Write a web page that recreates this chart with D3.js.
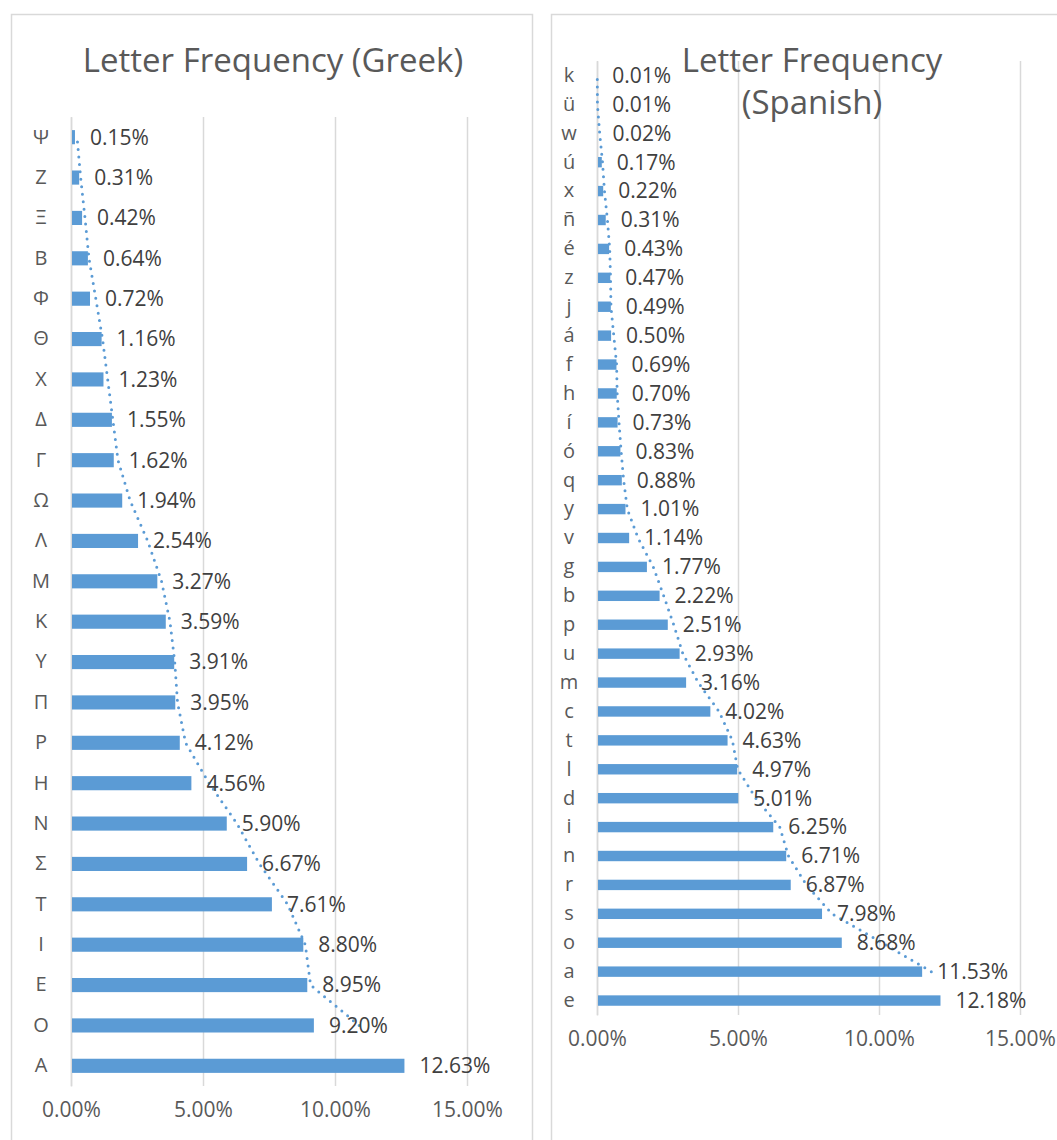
<!DOCTYPE html>
<html>
<head>
<meta charset="utf-8">
<script src="https://cdn.jsdelivr.net/npm/d3@7"></script>
<style>
  body { margin: 0; background: #fff; }
  svg { display: block; font-family: "Open Sans", "Noto Sans", sans-serif; }
</style>
</head>
<body>
<script>
// data, listed from the bottom bar upwards (Excel order)
var greekLetters = ["\u0391","\u039F","\u0395","\u0399","\u03A4","\u03A3","\u039D","\u0397","\u03A1","\u03A0","\u03A5","\u039A","\u039C","\u039B","\u03A9","\u0393","\u0394","\u03A7","\u0398","\u03A6","\u0392","\u039E","\u0396","\u03A8"];
var greekValues = [12.63, 9.20, 8.95, 8.80, 7.61, 6.67, 5.90, 4.56, 4.12, 3.95, 3.91, 3.59, 3.27, 2.54, 1.94, 1.62, 1.55, 1.23, 1.16, 0.72, 0.64, 0.42, 0.31, 0.15];

var spanishLetters = ["e","a","o","s","r","n","i","d","l","t","c","m","u","p","b","g","v","y","q","ó","í","h","f","á","j","z","é","ñ","x","ú","w","ü","k"];
var spanishValues = [12.18, 11.53, 8.68, 7.98, 6.87, 6.71, 6.25, 5.01, 4.97, 4.63, 4.02, 3.16, 2.93, 2.51, 2.22, 1.77, 1.14, 1.01, 0.88, 0.83, 0.73, 0.70, 0.69, 0.50, 0.49, 0.47, 0.43, 0.31, 0.22, 0.17, 0.02, 0.01, 0.01];

var xTicks = [0, 5, 10, 15];
var xMax = 15;

var barColor = "#5B9BD5";
var gridColor = "#D9D9D9";

var svg = d3.select("body").append("svg")
    .attr("width", 1057)
    .attr("height", 1140);

function pct(v) { return v.toFixed(2) + "%"; }

function drawPanel(opts) {
    // chart border
    svg.append("rect")
        .attr("x", opts.box[0] + 0.5)
        .attr("y", opts.box[1] + 0.5)
        .attr("width", opts.box[2])
        .attr("height", opts.box[3])
        .attr("fill", "#fff")
        .attr("stroke", gridColor)
        .attr("stroke-width", 1.5);

    var x = d3.scaleLinear()
        .domain([0, xMax])
        .range([opts.left, opts.right]);

    var y = d3.scaleBand()
        .domain(opts.letters)
        .range([opts.bottom, opts.top])
        .paddingInner(opts.gap)
        .paddingOuter(opts.gap / 2);

    var g = svg.append("g");

    // vertical gridlines + value axis labels
    var xAxis = g.append("g")
        .attr("transform", "translate(0," + opts.bottom + ")")
        .call(d3.axisBottom(x)
            .tickValues(xTicks)
            .tickSize(-(opts.bottom - opts.top))
            .tickPadding(opts.tickPad)
            .tickFormat(pct));
    xAxis.select(".domain").remove();
    xAxis.selectAll("line")
        .attr("stroke", gridColor)
        .attr("stroke-width", 1.5);
    xAxis.selectAll("text")
        .attr("fill", "#595959")
        .attr("font-size", 21)
        .attr("font-family", "Open Sans");

    // category axis
    var yAxis = g.append("g")
        .attr("transform", "translate(" + opts.left + ",0)")
        .call(d3.axisLeft(y).tickSize(0).tickPadding(0));
    yAxis.select(".domain")
        .attr("stroke", gridColor)
        .attr("stroke-width", 1.5);
    yAxis.selectAll("text")
        .attr("x", -opts.catOffset)
        .attr("text-anchor", "middle")
        .attr("fill", "#595959")
        .attr("font-size", 20)
        .attr("font-family", "Open Sans");

    // bars
    g.selectAll(".bar")
        .data(opts.values)
        .enter().append("rect")
            .attr("class", "bar")
            .attr("x", x(0) + 1)
            .attr("y", function(d, i) { return y(opts.letters[i]); })
            .attr("width", function(d) { return x(d) - x(0) - 1; })
            .attr("height", y.bandwidth())
            .attr("fill", barColor);

    // moving average trendline (period 2)
    var trend = [];
    for (var i = 1; i < opts.values.length; i++) {
        trend.push([
            x((opts.values[i - 1] + opts.values[i]) / 2),
            y(opts.letters[i]) + y.bandwidth() / 2
        ]);
    }
    g.append("path")
        .attr("d", d3.line()(trend))
        .attr("fill", "none")
        .attr("stroke", barColor)
        .attr("stroke-width", 3)
        .attr("stroke-linecap", "round")
        .attr("stroke-dasharray", "0,7.5");

    // data labels
    g.selectAll(".lbl")
        .data(opts.values)
        .enter().append("text")
            .attr("class", "lbl")
            .attr("x", function(d) { return x(d) + opts.labelPad; })
            .attr("y", function(d, i) { return y(opts.letters[i]) + y.bandwidth() / 2; })
            .attr("dy", "0.35em")
            .attr("fill", "#404040")
            .attr("font-size", 21)
            .text(pct);

    // title
    var t = svg.append("text")
        .attr("text-anchor", "middle")
        .attr("fill", "#595959")
        .attr("font-size", opts.titleSize);
    opts.title.forEach(function(line, k) {
        t.append("tspan")
            .attr("x", opts.titleX)
            .attr("y", opts.titleY + k * 42)
            .text(line);
    });
}

drawPanel({
    box: [11, 14, 521, 1140],
    left: 71, right: 467, top: 117, bottom: 1086,
    gap: 0.65, tickPad: 16, catOffset: 30, labelPad: 15,
    letters: greekLetters, values: greekValues,
    title: ["Letter Frequency (Greek)"], titleX: 273, titleY: 72, titleSize: 33
});

drawPanel({
    box: [551, 14, 521, 1140],
    left: 597, right: 1020, top: 61, bottom: 1015,
    gap: 0.64, tickPad: 16, catOffset: 28, labelPad: 15,
    letters: spanishLetters, values: spanishValues,
    title: ["Letter Frequency", "(Spanish)"], titleX: 812, titleY: 72, titleSize: 33
});
</script>
</body>
</html>
